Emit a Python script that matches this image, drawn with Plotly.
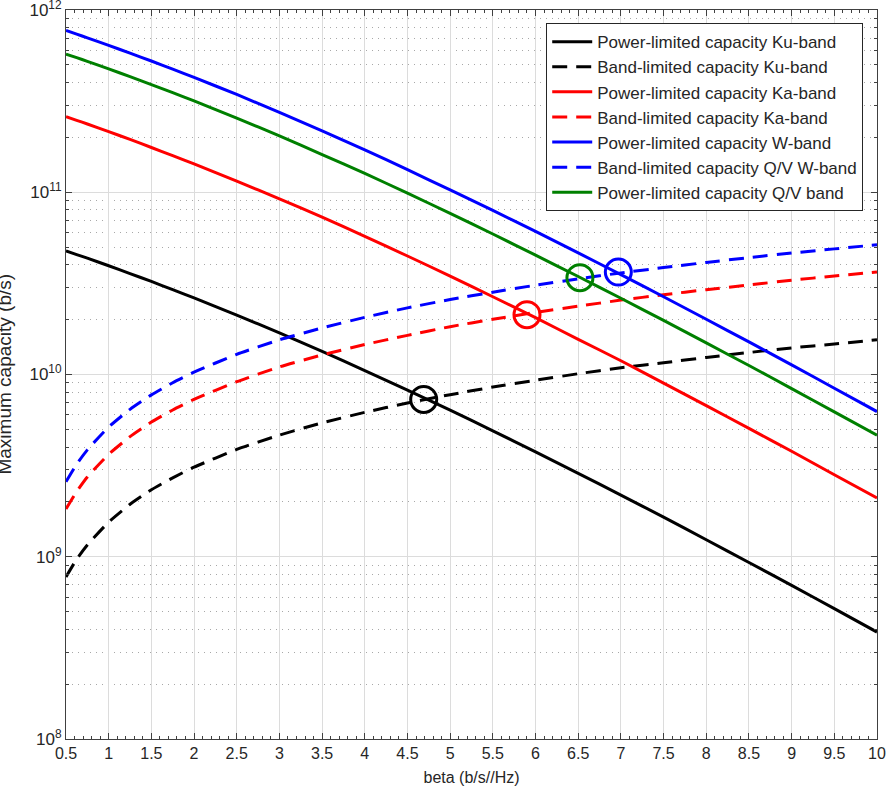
import plotly.graph_objects as go

beta = [0.5, 0.625, 0.75, 1.0, 1.25, 1.5, 1.75, 2.0, 2.5, 3.0, 3.5, 4.0, 4.5, 5.0,
        5.5, 6.0, 6.5, 7.0, 7.5, 8.0, 8.5, 9.0, 9.5, 10.0]

power_ku = [4.77e10, 4.55e10, 4.35e10, 3.95e10, 3.58e10, 3.24e10, 2.92e10, 2.63e10, 2.12e10, 1.69e10,
            1.34e10, 1.05e10, 8.22e9, 6.37e9,
            4.91e9, 3.76e9, 2.87e9, 2.18e9, 1.65e9, 1.24e9, 9.30e8, 6.96e8, 5.19e8, 3.86e8]
band_ku = [7.75e8, 9.69e8, 1.16e9, 1.55e9, 1.94e9, 2.33e9, 2.71e9, 3.10e9, 3.88e9, 4.65e9,
           5.43e9, 6.20e9, 6.98e9, 7.75e9,
           8.53e9, 9.30e9, 1.01e10, 1.09e10, 1.16e10, 1.24e10, 1.32e10, 1.40e10, 1.47e10, 1.55e10]
power_ka = [2.60e11, 2.48e11, 2.37e11, 2.15e11, 1.95e11, 1.76e11, 1.59e11, 1.43e11, 1.15e11, 9.21e10,
            7.30e10, 5.73e10, 4.47e10, 3.47e10,
            2.67e10, 2.05e10, 1.56e10, 1.19e10, 8.96e9, 6.75e9, 5.06e9, 3.79e9, 2.82e9, 2.10e9]
band_ka = [1.83e9, 2.28e9, 2.74e9, 3.65e9, 4.56e9, 5.48e9, 6.39e9, 7.30e9, 9.13e9, 1.10e10,
           1.28e10, 1.46e10, 1.64e10, 1.83e10,
           2.01e10, 2.19e10, 2.37e10, 2.56e10, 2.74e10, 2.92e10, 3.10e10, 3.29e10, 3.47e10, 3.65e10]
power_w = [7.73e11, 7.38e11, 7.04e11, 6.40e11, 5.80e11, 5.25e11, 4.74e11, 4.27e11, 3.44e11, 2.74e11,
           2.17e11, 1.71e11, 1.33e11, 1.03e11,
           7.95e10, 6.10e10, 4.65e10, 3.53e10, 2.67e10, 2.01e10, 1.51e10, 1.13e10, 8.41e9, 6.26e9]
band_w = [2.58e9, 3.22e9, 3.86e9, 5.15e9, 6.44e9, 7.73e9, 9.01e9, 1.03e10, 1.29e10, 1.55e10,
          1.80e10, 2.06e10, 2.32e10, 2.58e10,
          2.83e10, 3.09e10, 3.35e10, 3.61e10, 3.86e10, 4.12e10, 4.38e10, 4.64e10, 4.89e10, 5.15e10]
power_qv = [5.73e11, 5.48e11, 5.23e11, 4.75e11, 4.31e11, 3.90e11, 3.52e11, 3.17e11, 2.55e11, 2.04e11,
            1.61e11, 1.27e11, 9.88e10, 7.66e10,
            5.90e10, 4.52e10, 3.45e10, 2.62e10, 1.98e10, 1.49e10, 1.12e10, 8.37e9, 6.24e9, 4.64e9]

# crossing markers
cross_beta = [4.69, 5.90, 6.52, 6.97]
cross_cap = [7.3e9, 2.13e10, 3.40e10, 3.65e10]
cross_color = ["black", "red", "green", "blue"]

x_ticks = [0.5 * i for i in range(1, 21)]
x_labels = [("%g" % v) for v in x_ticks]
y_ticks = [1e8, 1e9, 1e10, 1e11, 1e12]
y_labels = ["10<sup>8</sup>", "10<sup>9</sup>", "10<sup>10</sup>", "10<sup>11</sup>", "10<sup>12</sup>"]

series = [
    ("Power-limited capacity Ku-band", power_ku, "black", "solid"),
    ("Band-limited capacity Ku-band", band_ku, "black", "15px,9px"),
    ("Power-limited capacity Ka-band", power_ka, "red", "solid"),
    ("Band-limited capacity Ka-band", band_ka, "red", "15px,9px"),
    ("Power-limited capacity W-band", power_w, "blue", "solid"),
    ("Band-limited capacity Q/V W-band", band_w, "blue", "15px,9px"),
    ("Power-limited capacity Q/V band", power_qv, "green", "solid"),
]

fig = go.Figure()
for name, vals, col, dash in series:
    fig.add_trace(go.Scatter(x=beta, y=vals, mode="lines", name=name,
                             line=dict(color=col, width=3, dash=dash, shape="spline", smoothing=0.5)))

for bx, cy, col in zip(cross_beta, cross_cap, cross_color):
    fig.add_trace(go.Scatter(x=[bx], y=[cy], mode="markers", showlegend=False,
                             marker=dict(symbol="circle-open", size=26, color=col,
                                         line=dict(color=col, width=3))))

font_main = "Liberation Sans, Arial, sans-serif"
axis_col = "#404040"
fig.update_layout(
    width=894, height=793,
    margin=dict(l=66, r=17, t=10, b=54, autoexpand=False),
    paper_bgcolor="white", plot_bgcolor="white",
    font=dict(family=font_main, size=16, color="#262626"),
    showlegend=True,
    legend=dict(x=0.983, y=0.982, xanchor="right", yanchor="top",
                bgcolor="white", bordercolor="#262626", borderwidth=1,
                font=dict(size=17, color="#262626"), tracegroupgap=0,
                itemwidth=40),
    xaxis=dict(range=[0.5, 10], tickvals=x_ticks, ticktext=x_labels,
               showline=True, linecolor=axis_col, linewidth=1, mirror="ticks",
               ticks="inside", ticklen=6, tickcolor=axis_col, automargin=False,
               showgrid=True, gridcolor="#dcdcdc", gridwidth=1, zeroline=False,
               tickfont=dict(size=16), ticklabeloverflow="allow",
               title=dict(text="beta (b/s//Hz)", standoff=10, font=dict(size=16)),
               minor=dict(dtick=0.1, tick0=0.5, ticks="inside", ticklen=3, tickcolor=axis_col,
                          showgrid=False)),
    yaxis=dict(type="log", range=[7.9999, 12.0001], tickvals=y_ticks, ticktext=y_labels,
               showline=True, linecolor=axis_col, linewidth=1, mirror="ticks",
               ticks="inside", ticklen=6, tickcolor=axis_col, automargin=False,
               showgrid=True, gridcolor="#dcdcdc", gridwidth=1, zeroline=False,
               tickfont=dict(size=17), ticklabeloverflow="allow",
               minor=dict(dtick="D1", ticks="inside", ticklen=3, tickcolor=axis_col,
                          showgrid=True, griddash="1px,5px", gridcolor="#a8a8a8", gridwidth=1)),
    annotations=[dict(text="Maximum capacity (b/s)", textangle=-90,
                      x=-0.0764, y=0.5, xref="paper", yref="paper",
                      xanchor="center", yanchor="middle", showarrow=False,
                      font=dict(size=19, color="#262626"))],
)

fig.write_html("out.html")
